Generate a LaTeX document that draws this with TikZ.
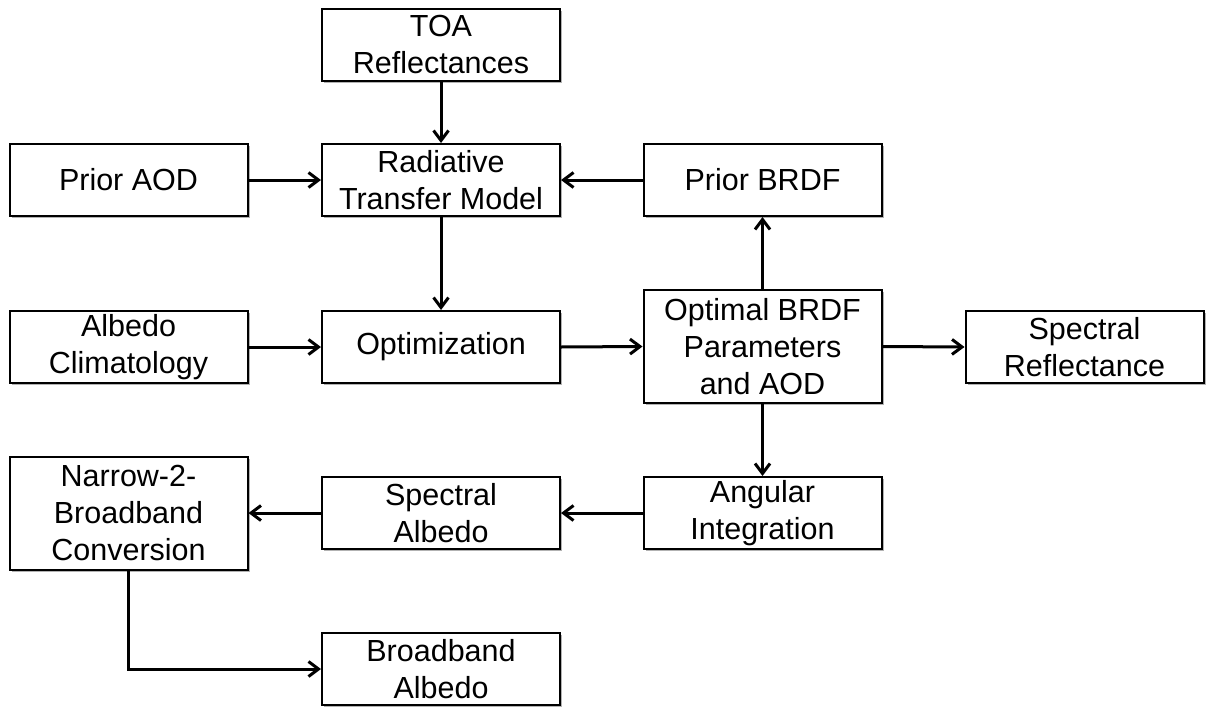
\documentclass[tikz,border=0pt]{standalone}
\usepackage{fontspec}
\setmainfont{Liberation Sans}
\usetikzlibrary{arrows.meta,shadows}
\begin{document}
\begin{tikzpicture}[x=1pt,y=-1pt,
  box/.style={draw, line width=2pt, fill=white, minimum width=238pt, minimum height=72pt,
    inner sep=0pt, align=center, font=\fontsize{30.5}{37}\selectfont,
    drop shadow={shadow xshift=2pt, shadow yshift=-2pt, fill=black, opacity=0.3}},
  tall/.style={box, minimum height=113pt},
  conn/.style={line width=3pt, -{Straight Barb[length=10pt,width=15pt,line width=3pt]}}
]
\useasboundingbox (0,0) rectangle (1208,707);
\node[box] (toa) at (441,44.5) {TOA\\Reflectances};
\node[box] (paod) at (128.5,180) {Prior AOD};
\node[box] (rtm) at (441,180) {Radiative\\Transfer Model};
\node[box] (pbrdf) at (762.5,180) {Prior BRDF};
\node[box] (alb) at (128.5,347) {Albedo\\Climatology};
\node[box] (opt) at (441,347) {Optimization};
\node[tall] (obrdf) at (762.5,346.5) {Optimal BRDF\\Parameters\\and AOD};
\node[box] (sref) at (1084.5,347) {Spectral\\Reflectance};
\node[tall] (n2b) at (128.5,513) {Narrow-2-\\Broadband\\Conversion};
\node[box] (salb) at (441,513) {Spectral\\Albedo};
\node[box] (ang) at (762.5,513) {Angular\\Integration};
\node[box] (bb) at (441,669) {Broadband\\Albedo};

\draw[conn] (toa.south) -- (rtm.north);
\draw[conn] (paod.east) -- (rtm.west);
\draw[conn] (pbrdf.west) -- (rtm.east);
\draw[conn] (rtm.south) -- (opt.north);
\draw[conn] (alb.east) -- (opt.west);
\draw[conn] (opt.east) -- (obrdf.west);
\draw[conn] (obrdf.north) -- (pbrdf.south);
\draw[conn] (obrdf.east) -- (sref.west);
\draw[conn] (obrdf.south) -- (ang.north);
\draw[conn] (ang.west) -- (salb.east);
\draw[conn] (salb.west) -- (n2b.east);
\draw[conn] (n2b.south) |- (bb.west);
\end{tikzpicture}
\end{document}
